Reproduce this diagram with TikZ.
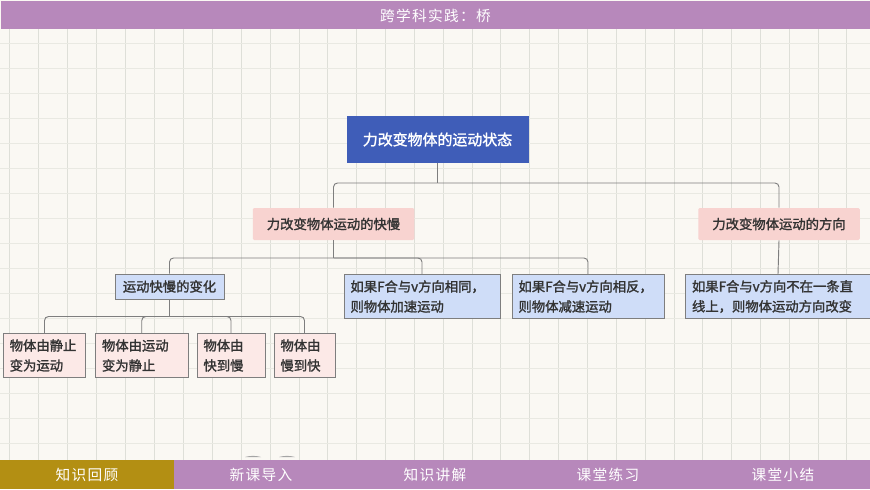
\documentclass[tikz,border=0pt]{standalone}
\usepackage{fontspec}
\setmainfont{Noto Sans CJK SC}[BoldFont=*,BoldFeatures={FakeBold=1.6}]
\newfontfamily\barfont[LetterSpace=9]{Noto Sans CJK SC}
\newdimen\pxu \pxu=0.75pt
\definecolor{paper}{HTML}{FAF8F3}
\definecolor{gridv}{HTML}{DEDFD8}
\definecolor{gridh}{HTML}{E9E9E2}
\definecolor{barpurple}{HTML}{B788BB}
\definecolor{bargold}{HTML}{B38F13}
\definecolor{rootblue}{HTML}{3F5DB8}
\definecolor{pinkfill}{HTML}{F8D3D0}
\definecolor{bluefill}{HTML}{CFDDF8}
\definecolor{leaffill}{HTML}{FCE9E7}
\definecolor{edge}{HTML}{7E7E7E}
\definecolor{ink}{HTML}{333333}
\tikzset{
  x=0.75pt,y=-0.75pt,
  rootbox/.style={fill=rootblue,text=white,font=\fontsize{11.2pt}{15pt}\selectfont\bfseries,minimum width=182\pxu,minimum height=47\pxu,inner sep=0pt},
  pinkbox/.style={fill=pinkfill,text=ink,font=\fontsize{10pt}{15pt}\selectfont\bfseries,minimum width=161.5\pxu,minimum height=32\pxu,inner sep=0pt,rounded corners=1pt},
  infobox/.style={fill=bluefill,draw=edge,line width=0.6pt,text=ink,font=\fontsize{10pt}{15pt}\selectfont\bfseries,inner ysep=0pt,inner xsep=6.5\pxu,align=left,anchor=center},
  leafbox/.style={fill=leaffill,draw=edge,line width=0.6pt,text=ink,font=\fontsize{10pt}{15pt}\selectfont\bfseries,inner ysep=0pt,inner xsep=6.5\pxu,align=left,anchor=center,minimum height=44.5\pxu},
  conn/.style={draw=edge,line width=0.7pt,rounded corners=3pt},
  bartext/.style={text=white,font=\fontsize{11pt}{13pt}\selectfont\barfont,inner sep=0pt},
}
\begin{document}
\begin{tikzpicture}
\useasboundingbox (0,0) rectangle (870,489);
\fill[paper] (0,0) rectangle (870,489);
% grid
\foreach \gx in {9.5,38.5,67.5,96.5,125.5,154.5,183.5,212.5,241,270,299,327.5,356,385,414,443,472,500.5,529,558,587,616,645,674,702.5,731,760,789,818,846.5}
  \draw[gridv,line width=0.6pt] (\gx,29) -- (\gx,460);
\foreach \gy in {43,68,93,118,143,168,193,218,243,268,293,318,343,368,393,418,443}
  \draw[gridh,line width=0.6pt] (0,\gy) -- (870,\gy);
% bars
\fill[barpurple] (0.7,1) rectangle (870,29);
\fill[barpurple] (174,460) rectangle (870,489);
\fill[bargold] (0,460) rectangle (174,489);
\node[bartext] (title) at (435.5,15.5) {跨学科实践：桥};
\node[bartext] (nav1) at (87,474.5) {知识回顾};
\node[bartext] (nav2) at (261,474.5) {新课导入};
\node[bartext] (nav3) at (435,474.5) {知识讲解};
\node[bartext] (nav4) at (608,474.5) {课堂练习};
\node[bartext] (nav5) at (783,474.5) {课堂小结};
% fragments above the bar
\fill[edge!70] (245,457) .. controls (250,455.5) and (256,455.5) .. (261,457) -- cycle;
\fill[edge!70] (279,457) .. controls (284,455.5) and (290,455.5) .. (295,457) -- cycle;
% nodes
\node[rootbox] (root) at (437.5,139.5) {力改变物体的运动状态};
\node[pinkbox] (p1) at (333.5,224) {力改变物体运动的快慢};
\node[pinkbox] (p2) at (779,224) {力改变物体运动的方向};
\node[infobox,minimum width=109\pxu,minimum height=25\pxu] (b0) at (169.5,286.5) {运动快慢的变化};
\node[infobox,text width=143\pxu,minimum height=44.5\pxu] (b1) at (422,296.5) {如果F合与v方向相同，\\则物体加速运动};
\node[infobox,text width=139\pxu,minimum height=44.5\pxu] (b2) at (588,296.5) {如果F合与v方向相反，\\则物体减速运动};
\node[infobox,text width=172\pxu,minimum height=44.5\pxu] (b3) at (778,296.5) {如果F合与v方向不在一条直\\线上，则物体运动方向改变};
\node[leafbox,text width=69.5\pxu] (l1) at (44.5,355.5) {物体由静止\\变为运动};
\node[leafbox,text width=79.5\pxu] (l2) at (141.75,355.5) {物体由运动\\变为静止};
\node[leafbox,text width=55\pxu] (l3) at (231,355.5) {物体由\\快到慢};
\node[leafbox,text width=48\pxu] (l4) at (304.5,355.5) {物体由\\慢到快};
% connectors
\coordinate (j0) at (root.south |- 0,183);
\coordinate (j1) at (p1.south |- 0,258);
\coordinate (j2) at (b0.south |- 0,316.5);
\draw[conn] (root.south) -- (j0);
\draw[conn] (j0) -| (p1.north);
\draw[conn] (j0) -| (p2.north);
\draw[conn] (p1.south) -- (j1);
\draw[conn] (j1) -| (b0.north);
\draw[conn] (j1) -| (b1.north);
\draw[conn] (j1) -| (b2.north);
\draw[conn] (p2.south) -- (b3.north);
\draw[conn] (b0.south) -- (j2);
\draw[conn] (j2) -| (l1.north);
\draw[conn] (j2) -| (l2.north);
\draw[conn] (j2) -| (l3.north);
\draw[conn] (j2) -| (l4.north);
\end{tikzpicture}
\end{document}
